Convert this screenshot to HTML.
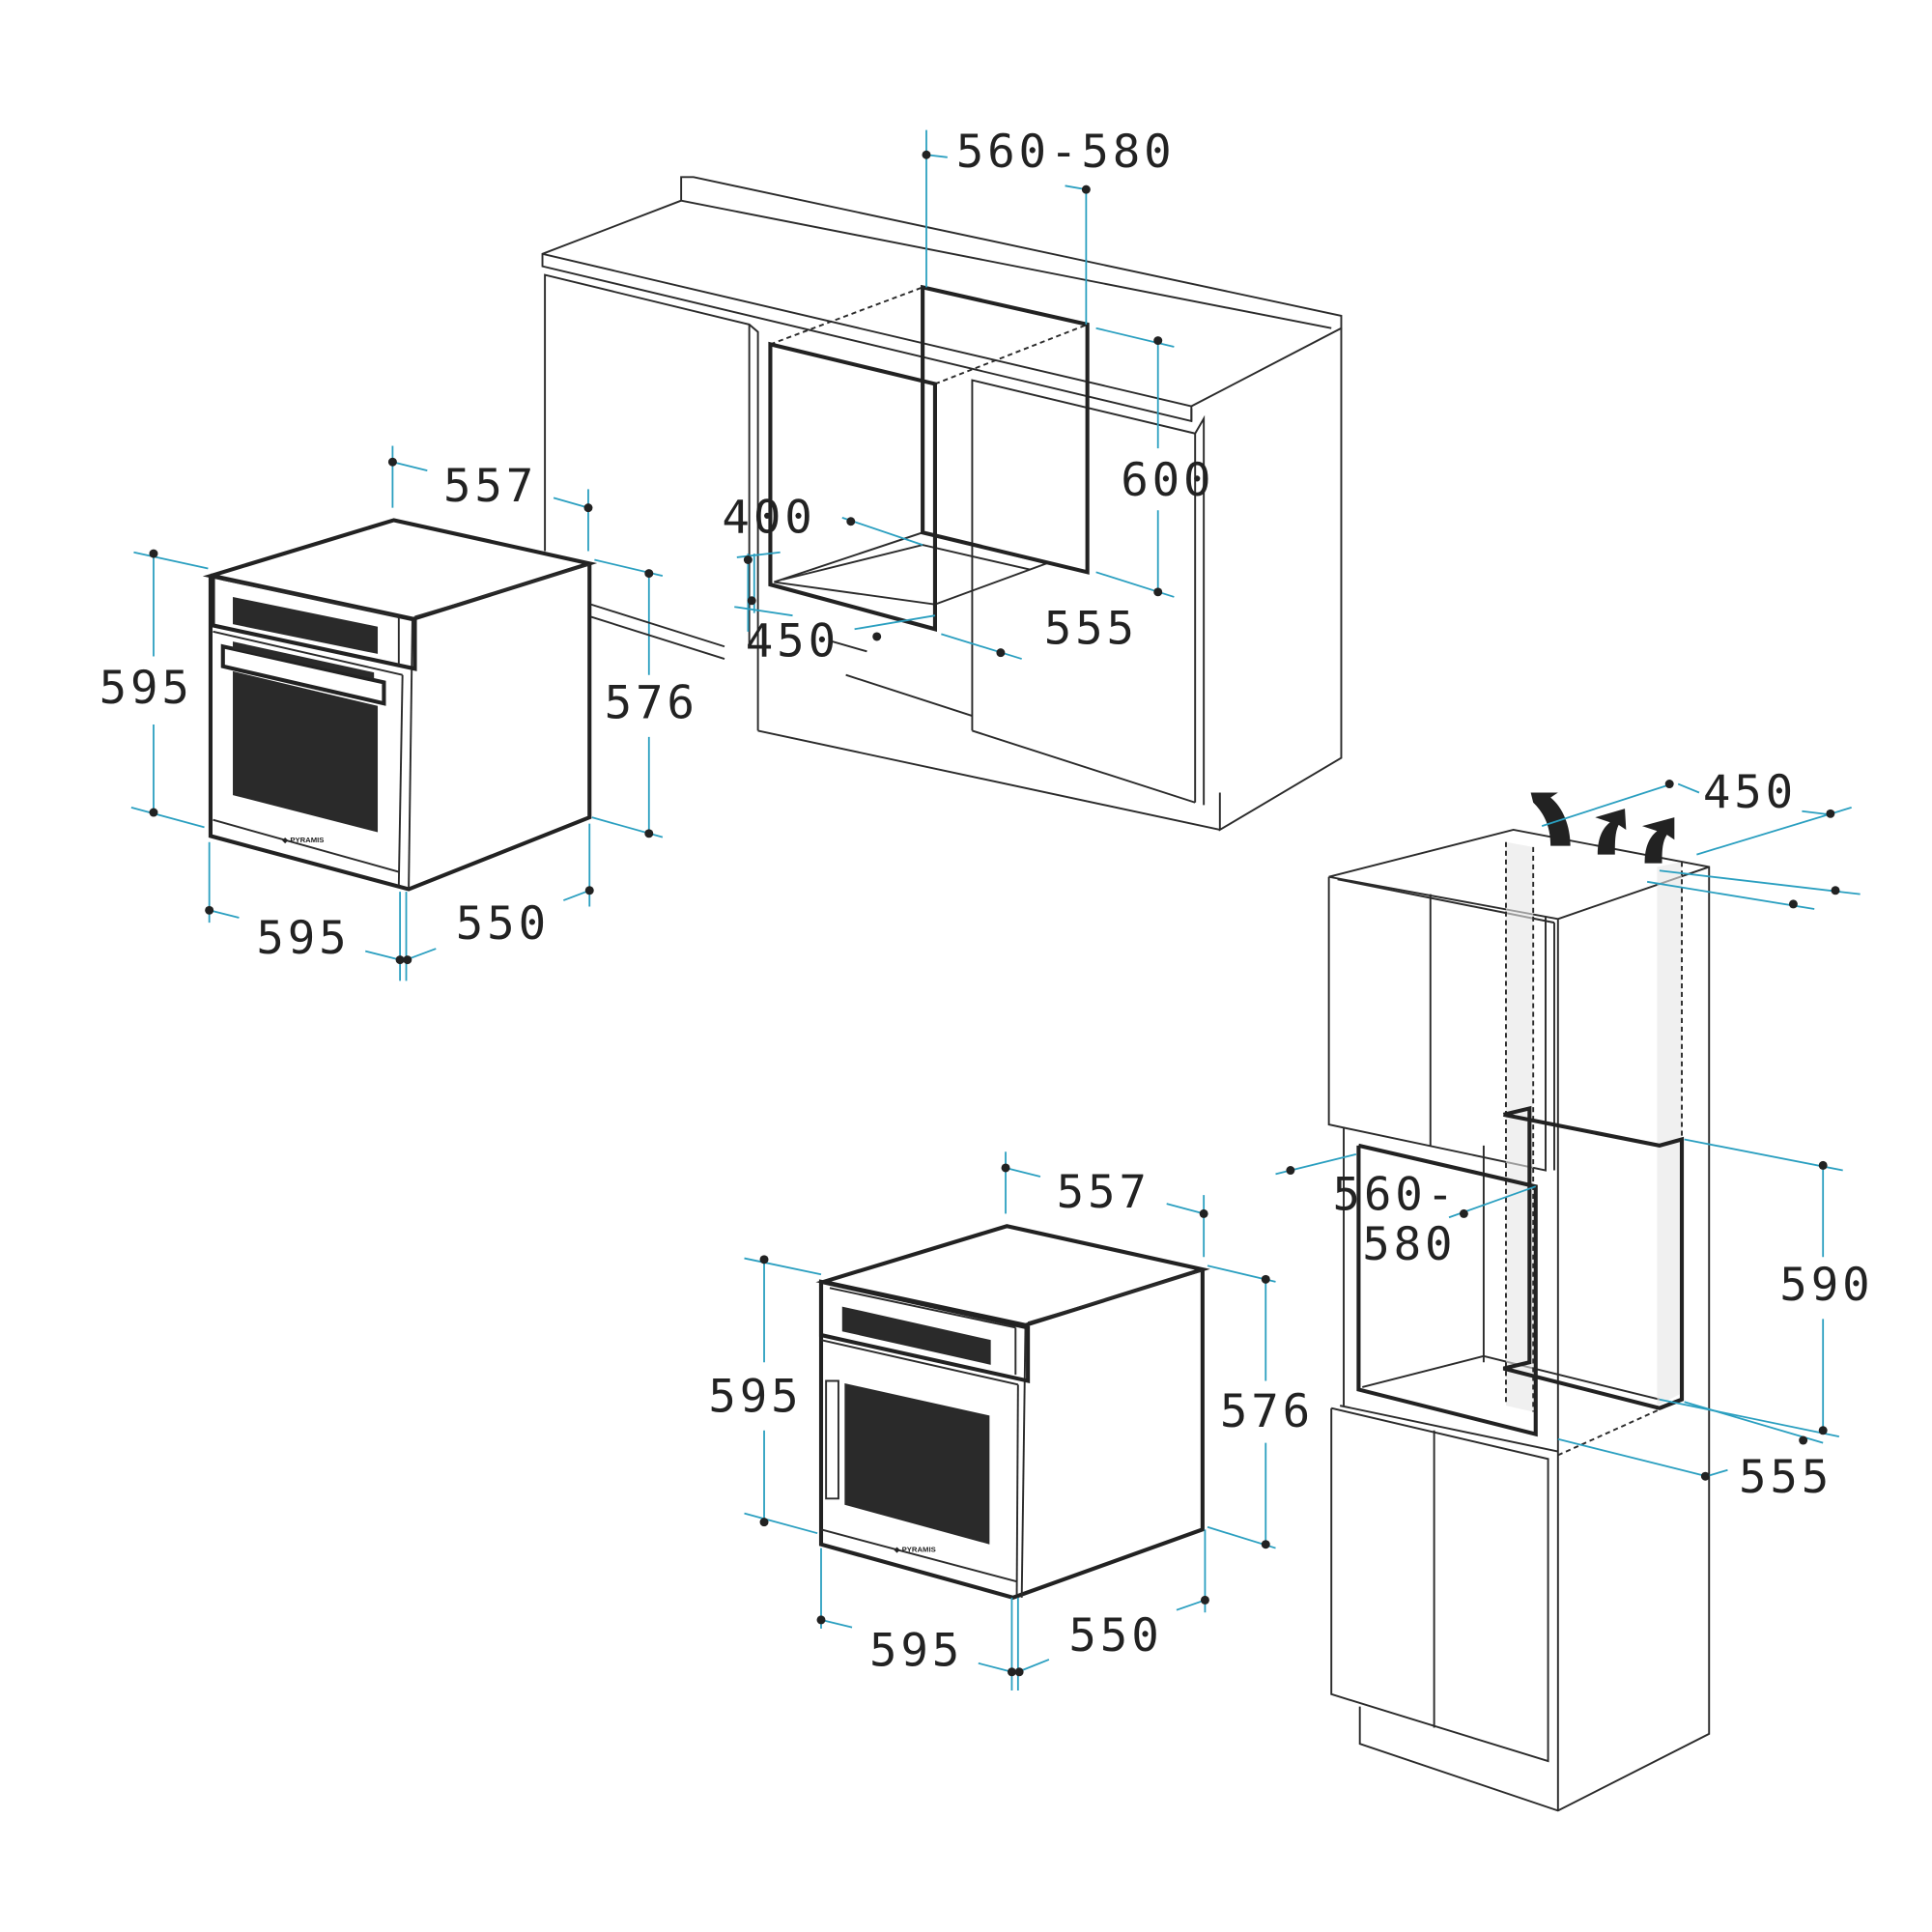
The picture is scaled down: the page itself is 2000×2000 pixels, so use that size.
<!DOCTYPE html>
<html><head><meta charset="utf-8"><style>
html,body{margin:0;padding:0;background:#fff;width:2000px;height:2000px;overflow:hidden}
svg{display:block}
text{font-family:"DejaVu Sans Mono","Liberation Mono",monospace;font-size:37px;fill:#222;letter-spacing:3px}
.k{stroke:#2b2b2b;fill:none;stroke-width:1.5}
.K{stroke:#222;fill:none;stroke-width:3.2}
.c{stroke:#2a9fc0;fill:none;stroke-width:1.4}
.d{fill:#222}
</style></head><body>
<svg width="2000" height="2000" viewBox="0 0 1560 1560" xmlns="http://www.w3.org/2000/svg">
<defs>
<g id="oven">
 <polygon class="K" points="170,465 318,420 476,455 333,500" fill="#fff"/>
 <polyline class="K" points="476,455 476,660 330,718 170,675 170,465"/>
 <line class="k" x1="333" y1="500" x2="330" y2="718"/>
 <line class="k" x1="335" y1="498" x2="476" y2="456"/>
 <polygon class="K" points="172,465 335,500 335,540 172,505"/>
 <line class="k" x1="180" y1="468" x2="322" y2="498"/><line class="k" x1="322" y1="498" x2="322" y2="537"/>
 <line class="k" x1="172" y1="510" x2="325" y2="545"/>
 <line class="k" x1="325" y1="545" x2="322" y2="715"/>
 <line class="k" x1="172" y1="662" x2="322" y2="704"/>
</g>
</defs>

<!-- ===== Oven 1 ===== -->
<use href="#oven"/>
<polygon fill="#2a2a2a" points="188,482 305,506 305,528 188,504"/>
<polygon class="K" points="180,522 310,551 310,568 180,538" stroke-width="2"/>
<polygon fill="#2a2a2a" points="188,518 302,543 302,548 188,524"/>
<polygon fill="#2a2a2a" points="188,542 305,570 305,672 188,642"/>
<text x="228" y="680" style="font-size:6px;letter-spacing:0;font-family:'Liberation Sans',sans-serif;font-weight:bold">◆ PYRAMIS</text>

<!-- dims oven 1 -->
<g class="c">
 <line x1="317" y1="360" x2="317" y2="410"/><line x1="475" y1="395" x2="475" y2="445"/>
 <line x1="317" y1="373" x2="345" y2="380"/><line x1="447" y1="402" x2="475" y2="410"/>
 <line x1="108" y1="446" x2="168" y2="459"/><line x1="106" y1="652" x2="165" y2="668"/>
 <line x1="124" y1="447" x2="124" y2="530"/><line x1="124" y1="585" x2="124" y2="656"/>
 <line x1="480" y1="452" x2="535" y2="465"/><line x1="478" y1="660" x2="535" y2="676"/>
 <line x1="524" y1="463" x2="524" y2="545"/><line x1="524" y1="595" x2="524" y2="673"/>
 <line x1="169" y1="680" x2="169" y2="745"/><line x1="323" y1="720" x2="323" y2="792"/><line x1="328" y1="720" x2="328" y2="792"/>
 <line x1="169" y1="735" x2="193" y2="741"/><line x1="295" y1="768" x2="323" y2="775"/>
 <line x1="476" y1="665" x2="476" y2="732"/><line x1="476" y1="719" x2="455" y2="727"/><line x1="352" y1="766" x2="328" y2="775"/>
</g>
<g class="d">
 <circle cx="317" cy="373" r="3.5"/><circle cx="475" cy="410" r="3.5"/>
 <circle cx="124" cy="447" r="3.5"/><circle cx="124" cy="656" r="3.5"/>
 <circle cx="524" cy="463" r="3.5"/><circle cx="524" cy="673" r="3.5"/>
 <circle cx="169" cy="735" r="3.5"/><circle cx="323" cy="775" r="3.5"/>
 <circle cx="476" cy="719" r="3.5"/><circle cx="329" cy="775" r="3.5"/>
</g>
<text x="358" y="405">557</text>
<text x="80" y="568">595</text>
<text x="488" y="580">576</text>
<text x="207" y="770">595</text>
<text x="368" y="758">550</text>

<!-- ===== Oven 2 ===== -->
<g transform="translate(495,570)">
 <polygon class="K" points="170,465 318,420 476,455 333,500" fill="#fff"/>
 <polyline class="K" points="476,455 476,665 323,720 168,677 168,465"/>
 <line class="k" x1="333" y1="500" x2="330" y2="720"/>
 <line class="k" x1="335" y1="498" x2="476" y2="456"/>
 <polygon class="K" points="168,465 335,502 335,545 168,508"/>
 <line class="k" x1="175" y1="470" x2="325" y2="502"/><line class="k" x1="325" y1="502" x2="325" y2="540"/>
 <line class="k" x1="168" y1="512" x2="327" y2="548"/>
 <line class="k" x1="327" y1="548" x2="326" y2="718"/>
 <line class="k" x1="168" y1="665" x2="326" y2="707"/>
 <polygon fill="#2a2a2a" points="185,485 305,512 305,532 185,505"/>
 <polygon fill="#2a2a2a" points="187,547 304,573 304,677 187,645"/>
 <polygon class="k" points="172,545 182,545 182,640 172,640" stroke-width="2"/>
 <text x="227" y="683" style="font-size:6px;letter-spacing:0;font-family:'Liberation Sans',sans-serif;font-weight:bold">◆ PYRAMIS</text>
</g>
<g class="c" transform="translate(495,570)">
 <line x1="317" y1="360" x2="317" y2="410"/><line x1="477" y1="395" x2="477" y2="445"/>
 <line x1="317" y1="373" x2="345" y2="380"/><line x1="447" y1="402" x2="477" y2="410"/>
 <line x1="106" y1="446" x2="168" y2="459"/><line x1="106" y1="652" x2="165" y2="668"/>
 <line x1="122" y1="447" x2="122" y2="530"/><line x1="122" y1="585" x2="122" y2="659"/>
 <line x1="480" y1="452" x2="535" y2="465"/><line x1="480" y1="663" x2="535" y2="680"/>
 <line x1="527" y1="463" x2="527" y2="545"/><line x1="527" y1="595" x2="527" y2="677"/>
 <line x1="168" y1="680" x2="168" y2="745"/><line x1="322" y1="720" x2="322" y2="795"/><line x1="327" y1="720" x2="327" y2="795"/>
 <line x1="168" y1="738" x2="193" y2="744"/><line x1="295" y1="773" x2="322" y2="780"/>
 <line x1="478" y1="665" x2="478" y2="732"/><line x1="478" y1="722" x2="455" y2="730"/><line x1="352" y1="770" x2="327" y2="780"/>
</g>
<g class="d" transform="translate(495,570)">
 <circle cx="317" cy="373" r="3.5"/><circle cx="477" cy="410" r="3.5"/>
 <circle cx="122" cy="447" r="3.5"/><circle cx="122" cy="659" r="3.5"/>
 <circle cx="527" cy="463" r="3.5"/><circle cx="527" cy="677" r="3.5"/>
 <circle cx="168" cy="738" r="3.5"/><circle cx="322" cy="780" r="3.5"/>
 <circle cx="478" cy="722" r="3.5"/><circle cx="328" cy="780" r="3.5"/>
</g>
<text x="853" y="975">557</text>
<text x="572" y="1140">595</text>
<text x="985" y="1152">576</text>
<text x="702" y="1345">595</text>
<text x="863" y="1333">550</text>

<!-- ===== Kitchen counter ===== -->
<g class="k">
 <polyline points="550,162 550,143 560,143 1083,255 1083,265 962,328 962,340 438,215 438,205 550,162"/>
 <line x1="550" y1="162" x2="1075" y2="265"/>
 <line x1="438" y1="205" x2="962" y2="328"/>
 <line x1="962" y1="340" x2="962" y2="330"/>
 <polyline points="440,445 440,222 605,262 612,268 612,590"/>
 <line x1="605" y1="262" x2="605" y2="520"/>
 <polyline points="785,590 785,307 965,350 972,338 972,650"/>
 <line x1="965" y1="350" x2="965" y2="648"/>
 <polyline points="1083,265 1083,612 985,670 985,640"/>
 <line x1="477" y1="488" x2="585" y2="522"/>
 <line x1="477" y1="498" x2="585" y2="532"/>
 <line x1="683" y1="545" x2="785" y2="578"/>
 <line x1="785" y1="590" x2="965" y2="648"/>
 <line x1="612" y1="590" x2="985" y2="670"/>
 <line x1="672" y1="518" x2="700" y2="526"/>
 <!-- floor of cavity -->
 <polyline points="625,470 745,430 845,455 755,488 625,470"/>
 <polyline points="632,468 745,440 832,460"/>
</g>
<g class="k" stroke-dasharray="4,3">
 <line x1="622" y1="278" x2="745" y2="232"/><line x1="755" y1="310" x2="878" y2="262"/>
</g>
<polygon class="K" points="745,232 878,262 878,462 745,430" />
<polygon class="K" points="622,278 755,310 755,508 622,472" fill="none"/>
<g class="c">
 <line x1="748" y1="105" x2="748" y2="232"/><line x1="877" y1="150" x2="877" y2="262"/>
 <line x1="860" y1="150" x2="877" y2="153"/><line x1="748" y1="125" x2="765" y2="127"/>
 <line x1="885" y1="265" x2="948" y2="280"/><line x1="885" y1="462" x2="948" y2="482"/>
 <line x1="935" y1="275" x2="935" y2="362"/><line x1="935" y1="412" x2="935" y2="478"/>
 <line x1="680" y1="418" x2="745" y2="440"/>
 <line x1="604" y1="447" x2="604" y2="510"/><line x1="609" y1="447" x2="609" y2="495"/><line x1="595" y1="450" x2="630" y2="446"/>
 <line x1="593" y1="490" x2="640" y2="497"/><line x1="690" y1="508" x2="755" y2="497"/>
 <line x1="760" y1="512" x2="825" y2="532"/>
</g>
<g class="d">
 <circle cx="748" cy="125" r="3.5"/><circle cx="877" cy="153" r="3.5"/>
 <circle cx="935" cy="275" r="3.5"/><circle cx="935" cy="478" r="3.5"/>
 <circle cx="687" cy="421" r="3.5"/><circle cx="604" cy="452" r="3.5"/>
 <circle cx="607" cy="485" r="3.5"/><circle cx="708" cy="514" r="3.5"/>
 <circle cx="808" cy="527" r="3.5"/>
</g>
<text x="772" y="135">560-580</text>
<text x="905" y="400">600</text>
<text x="583" y="430">400</text>
<text x="602" y="530">450</text>
<text x="843" y="520">555</text>

<!-- ===== Tall cabinet ===== -->
<g class="k">
 <polyline points="1073,708 1222,670 1380,700 1380,1400 1258,1462 1098,1408 1098,1378"/>
 <line x1="1073" y1="708" x2="1258" y2="742"/>
 <line x1="1258" y1="742" x2="1380" y2="700"/>
 <line x1="1258" y1="742" x2="1258" y2="1462"/>
 <polyline points="1073,708 1073,908 1248,945 1248,740"/>
 <line x1="1080" y1="710" x2="1255" y2="745"/>
 <line x1="1155" y1="722" x2="1155" y2="925"/>
 <line x1="1085" y1="910" x2="1085" y2="1135"/>
 <line x1="1255" y1="745" x2="1255" y2="945"/>
 <polyline points="1075,1137 1075,1368 1250,1422 1250,1178 1075,1137"/>
 <line x1="1158" y1="1155" x2="1158" y2="1395"/>
 <line x1="1082" y1="1135" x2="1258" y2="1172"/>
 <line x1="1198" y1="925" x2="1198" y2="1100"/>
 <line x1="1100" y1="1120" x2="1198" y2="1095"/>
 <line x1="1198" y1="1095" x2="1340" y2="1130"/>
</g>
<g stroke="none" fill="#e6e6e6" opacity="0.6">
 <polygon points="1216,680 1238,684 1238,1140 1216,1135"/>
 <polygon points="1338,700 1358,696 1358,1125 1338,1135"/>
</g>
<g class="k" stroke-dasharray="4,3" stroke="#999">
 <line x1="1216" y1="680" x2="1216" y2="1135"/><line x1="1238" y1="684" x2="1238" y2="1140"/>
 <line x1="1358" y1="696" x2="1358" y2="1125"/>
 <line x1="1258" y1="1175" x2="1358" y2="1130"/>
</g>
<polyline class="K" points="1214,900 1235,895 1235,1100 1214,1105 1340,1137 1358,1130 1358,920 1340,925 1214,900"/>
<polyline class="K" points="1097,925 1240,958 1240,1158 1097,1122 1097,925"/>
<!-- arrows -->
<g fill="#222">
 <path d="M1252,683 C1252,665 1245,655 1238,648 L1236,640 L1258,640 L1252,644 C1262,652 1268,667 1268,683 Z"/>
 <path d="M1290,690 C1290,675 1295,668 1300,664 L1288,660 L1312,653 L1313,670 L1307,666 C1304,672 1304,680 1304,690 Z"/>
 <path d="M1328,697 C1328,682 1333,675 1338,671 L1326,667 L1352,660 L1352,678 L1346,674 C1342,680 1342,688 1342,697 Z"/>
</g>
<g class="c">
 <line x1="1245" y1="667" x2="1350" y2="633"/><line x1="1355" y1="633" x2="1372" y2="640"/>
 <line x1="1370" y1="690" x2="1495" y2="652"/><line x1="1455" y1="655" x2="1480" y2="658"/>
 <line x1="1340" y1="703" x2="1502" y2="722"/>
 <line x1="1330" y1="712" x2="1465" y2="734"/>
 <line x1="1030" y1="948" x2="1095" y2="932"/>
 <line x1="1170" y1="983" x2="1240" y2="958"/>
 <line x1="1360" y1="920" x2="1488" y2="945"/><line x1="1340" y1="1130" x2="1485" y2="1160"/>
 <line x1="1472" y1="941" x2="1472" y2="1015"/><line x1="1472" y1="1065" x2="1472" y2="1155"/>
 <line x1="1258" y1="1162" x2="1378" y2="1192"/><line x1="1378" y1="1192" x2="1395" y2="1187"/>
 <line x1="1360" y1="1132" x2="1472" y2="1165"/>
</g>
<g class="d">
 <circle cx="1348" cy="633" r="3.5"/><circle cx="1478" cy="657" r="3.5"/>
 <circle cx="1482" cy="719" r="3.5"/><circle cx="1448" cy="730" r="3.5"/>
 <circle cx="1042" cy="945" r="3.5"/><circle cx="1182" cy="980" r="3.5"/>
 <circle cx="1472" cy="941" r="3.5"/><circle cx="1472" cy="1155" r="3.5"/>
 <circle cx="1377" cy="1192" r="3.5"/><circle cx="1456" cy="1163" r="3.5"/>
</g>
<text x="1375" y="652">450</text>
<text x="1076" y="977">560-</text>
<text x="1100" y="1017">580</text>
<text x="1437" y="1050">590</text>
<text x="1404" y="1205">555</text>
</svg>
</body></html>
